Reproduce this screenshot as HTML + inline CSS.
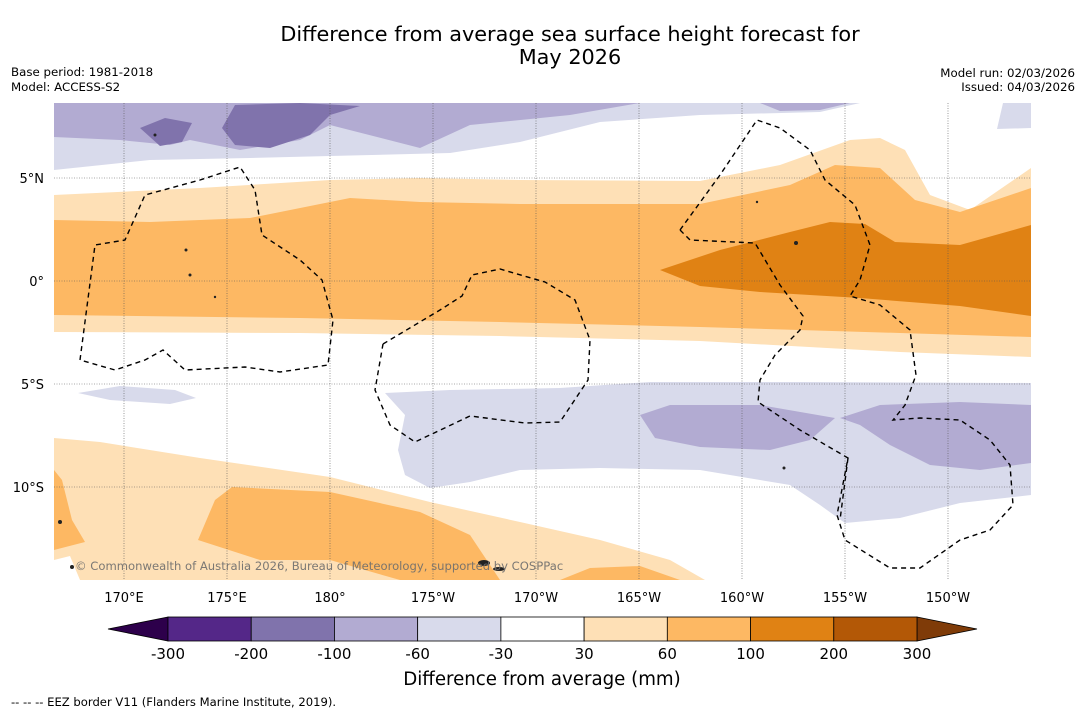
<!DOCTYPE html>
<html><head><meta charset="utf-8"><style>
body{margin:0;background:#fff;font-family:"Liberation Sans","DejaVu Sans",sans-serif}
svg text{font-family:"DejaVu Sans","Liberation Sans",sans-serif}
</style></head><body>
<svg id="chart" width="1085" height="713" viewBox="0 0 1085 713" xmlns="http://www.w3.org/2000/svg">
<rect width="1085" height="713" fill="#fff"/>
<text x="570" y="41" font-size="20.8" text-anchor="middle">Difference from average sea surface height forecast for</text>
<text x="570" y="64" font-size="20.8" text-anchor="middle">May 2026</text>
<text x="11" y="76" font-size="11.8">Base period: 1981-2018</text>
<text x="11" y="91" font-size="11.8">Model: ACCESS-S2</text>
<text x="1075" y="77" font-size="11.8" text-anchor="end">Model run: 02/03/2026</text>
<text x="1075" y="91" font-size="11.8" text-anchor="end">Issued: 04/03/2026</text>
<defs><clipPath id="mapclip"><rect x="54" y="103" width="977" height="477"/></clipPath></defs>
<g id="map" clip-path="url(#mapclip)">
<rect x="54" y="103" width="977" height="477" fill="#fff"/>
<path fill="#d8daeb" d="M54,103 L860,103 L820,112 L700,115 L600,122 L520,142 L450,153 L330,156 L250,158 L150,160 L54,170 Z"/>
<path fill="#b2abd2" d="M54,103 L640,103 L570,115 L470,125 L420,148 L330,125 L300,140 L240,150 L190,140 L170,145 L120,140 L54,137 Z"/>
<path fill="#8073ac" d="M222,128 L235,105 L300,103 L360,106 L330,115 L310,135 L270,148 L235,145 Z"/>
<path fill="#8073ac" d="M140,128 L165,118 L192,123 L182,142 L160,146 Z"/>
<path fill="#b2abd2" d="M760,103 L850,103 L820,110 L780,111 Z"/>
<path fill="#d8daeb" d="M1003,103 L1031,103 L1031,128 L997,129 Z"/>
<path fill="#fee0b6" d="M54,195 L200,188 L330,180 L420,178 L520,180 L700,181 L780,165 L850,140 L880,138 L905,150 L930,195 L970,210 L1031,168 L1031,357 L900,352 L700,341 L500,336 L300,333 L54,332 Z"/>
<path fill="#fdb863" d="M54,220 L150,222 L250,218 L350,198 L420,202 L520,204 L700,204 L790,185 L835,165 L880,168 L915,200 L960,212 L1031,188 L1031,337 L900,333 L700,327 L500,322 L300,318 L54,315 Z"/>
<path fill="#e08214" d="M660,270 L720,250 L790,232 L830,222 L865,224 L895,242 L960,245 L1031,225 L1031,316 L960,306 L860,298 L760,292 L700,286 Z"/>
<path fill="#d8daeb" d="M385,393 L450,390 L560,388 L650,382 L800,382 L1031,383 L1031,495 L960,503 L900,518 L845,523 L820,505 L790,485 L700,470 L600,468 L520,470 L470,482 L430,488 L405,475 L398,450 L405,415 Z"/>
<path fill="#d8daeb" d="M78,393 L120,386 L175,390 L196,398 L170,404 L110,400 Z"/>
<path fill="#b2abd2" d="M640,415 L670,405 L760,405 L835,418 L810,440 L770,450 L700,447 L655,438 Z"/>
<path fill="#b2abd2" d="M840,418 L880,405 L960,402 L1031,405 L1031,463 L980,470 L930,465 L890,445 L860,425 Z"/>
<path fill="#fee0b6" d="M54,438 L100,442 L200,458 L330,477 L430,502 L520,522 L600,540 L670,560 L705,580 L54,580 Z"/>
<path fill="#fdb863" d="M198,540 L215,500 L232,487 L330,492 L420,512 L470,535 L500,580 L400,580 L330,560 L260,560 Z"/>
<path fill="#fdb863" d="M54,470 L62,480 L72,520 L85,542 L54,550 Z"/>
<path fill="#fdb863" d="M560,580 L590,568 L640,566 L680,580 Z"/>
<path fill="#fff" d="M54,560 L70,556 L80,580 L54,580 Z"/>
<g id="grid" stroke="#555" stroke-width="0.6" stroke-dasharray="1,1.5"></g>
<g fill="none" stroke="#000" stroke-width="1.4" stroke-dasharray="5,4">
<path d="M80,360 L95,245 L125,240 L145,195 L200,180 L240,167 L255,190 L262,235 L300,260 L322,280 L333,320 L328,365 L280,372 L245,367 L185,370 L163,350 L145,360 L115,370 L80,360"/>
<path d="M383,344 L440,310 L462,296 L472,275 L500,269 L545,282 L575,300 L590,340 L588,380 L560,422 L525,423 L470,416 L415,442 L390,425 L375,390 L383,344"/>
<path d="M680,230 L720,175 L757,120 L780,128 L810,150 L825,180 L855,205 L870,245 L860,280 L850,296 L880,305 L910,330 L916,375 L905,405 L893,420 L920,418 L960,420 L990,440 L1010,465 L1013,505 L990,530 L960,540 L920,568 L890,568 L845,540 L837,515 L848,458 L800,430 L758,402 L760,380 L775,355 L800,330 L803,316 L780,285 L755,243 L690,240 L680,230"/>
<path d="M848,458 L840,520"/>
</g>
<g fill="#222">
<ellipse cx="484" cy="563" rx="6" ry="3"/><ellipse cx="499" cy="569" rx="6" ry="2"/>
<circle cx="186" cy="250" r="1.5"/><circle cx="190" cy="275" r="1.5"/><circle cx="215" cy="297" r="1.2"/>
<circle cx="60" cy="522" r="2"/><circle cx="72" cy="567" r="2"/><circle cx="796" cy="243" r="2"/>
<circle cx="757" cy="202" r="1.2"/><circle cx="784" cy="468" r="1.5"/><circle cx="155" cy="135" r="1.5"/>
</g>
<text x="75" y="570" font-size="11.6" fill="#6d6d6d" opacity="0.9">© Commonwealth of Australia 2026, Bureau of Meteorology, supported by COSPPac</text>
</g>
<g id="axislabels" font-size="13"></g>
<g id="colorbar"></g>
<text x="542" y="685" font-size="18.2" text-anchor="middle">Difference from average (mm)</text>
<text x="11" y="706" font-size="11.6">--  --  -- EEZ border V11 (Flanders Marine Institute, 2019).</text>
</svg>
<script>
const lonTicks=[170,175,180,185,190,195,200,205,210];
const lonLabels=["170°E","175°E","180°","175°W","170°W","165°W","160°W","155°W","150°W"];
const latTicks=[5,0,-5,-10];
const latLabels=["5°N","0°","5°S","10°S"];
const levels=["-300","-200","-100","-60","-30","30","60","100","200","300"];
const levelColors=["#542788","#8073ac","#b2abd2","#d8daeb","#ffffff","#fee0b6","#fdb863","#e08214","#b35806"];
const extColors=["#2d004b","#7f3b08"];
const NS="http://www.w3.org/2000/svg";
const xLon=l=>124+(l-170)*20.6;
const yLat=l=>281-l*20.6;
const grid=document.getElementById('grid');
const ax=document.getElementById('axislabels');
function mk(t,a,p){const e=document.createElementNS(NS,t);for(const k in a)e.setAttribute(k,a[k]);p.appendChild(e);return e;}
lonTicks.forEach((l,i)=>{
 const ln=mk('line',{x1:xLon(l),x2:xLon(l),y1:103,y2:580},grid);
 
 
 const t=mk('text',{x:xLon(l),y:602,'text-anchor':'middle'},ax);t.textContent=lonLabels[i];
 
 
});
latTicks.forEach((l,i)=>{
 const ln=mk('line',{x1:54,x2:1031,y1:yLat(l),y2:yLat(l)},grid);
 
 
 const t=mk('text',{x:44,y:yLat(l)+5,'text-anchor':'end'},ax);t.textContent=latLabels[i];
 
 
});
const cb=document.getElementById('colorbar');
const x0=168,x1=917,cy0=617,cy1=641,n=levelColors.length,w=(x1-x0)/n;
const e1=mk('polygon',{points:`${x0},${cy0} ${x0-60},${(cy0+cy1)/2} ${x0},${cy1}`,fill:extColors[0],stroke:'#000','stroke-width':0.8},cb);


const e2=mk('polygon',{points:`${x1},${cy0} ${x1+60},${(cy0+cy1)/2} ${x1},${cy1}`,fill:extColors[1],stroke:'#000','stroke-width':0.8},cb);


levelColors.forEach((c,i)=>{
 const r=mk('rect',{x:x0+i*w,y:cy0,width:w,height:cy1-cy0,fill:c,stroke:'#000','stroke-width':0.8},cb);
 
 
});
levels.forEach((v,i)=>{
 const t=mk('text',{x:x0+i*w,y:659,'text-anchor':'middle','font-size':15},cb);t.textContent=v;
 
 
});
</script>
</body></html>
